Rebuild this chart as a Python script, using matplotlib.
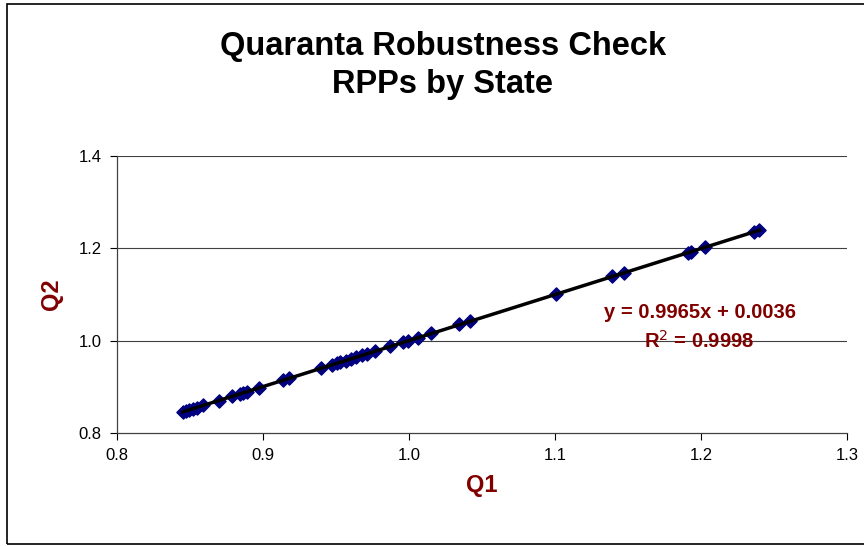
import numpy as np
import matplotlib.pyplot as plt
from matplotlib.patches import Rectangle

plt.rcParams['font.family'] = ['Liberation Sans', 'DejaVu Sans']

# RPPs by state, two quarters
q1 = [0.845, 0.847, 0.849, 0.852, 0.855, 0.859, 0.870, 0.879, 0.884, 0.886,
      0.889, 0.897, 0.914, 0.918, 0.940, 0.947, 0.951, 0.953, 0.957, 0.960,
      0.964, 0.968, 0.971, 0.977, 0.987, 0.996, 0.999, 1.006, 1.015, 1.034,
      1.042, 1.101, 1.139, 1.147, 1.191, 1.193, 1.203, 1.236, 1.240]
q2 = [0.845, 0.847, 0.850, 0.853, 0.855, 0.860, 0.870, 0.880, 0.884, 0.887,
      0.889, 0.898, 0.914, 0.920, 0.941, 0.948, 0.951, 0.953, 0.957, 0.960,
      0.964, 0.968, 0.971, 0.977, 0.988, 0.996, 1.000, 1.006, 1.016, 1.035,
      1.043, 1.101, 1.139, 1.146, 1.189, 1.193, 1.202, 1.235, 1.239]
slope, intercept = 0.9965, 0.0036
eq_text = 'y = 0.9965x + 0.0036'
r2_text = 'R$^2$ = 0.9998'
xticks = [0.8, 0.9, 1.0, 1.1, 1.2, 1.3]
yticks = [0.8, 1.0, 1.2, 1.4]

fig = plt.figure(figsize=(8.64, 5.46), dpi=100)
fig.patches.append(Rectangle((0.0081, 0.0037), 1.0, 0.989, transform=fig.transFigure,
                             fill=False, edgecolor='black', linewidth=1.2))
ax = fig.add_axes([0.1354, 0.2070, 0.8449, 0.5073])

for y in yticks[1:]:
    ax.axhline(y, color='#404040', linewidth=0.8, zorder=0)

ax.scatter(q1, q2, marker='D', s=45, color='#000080', zorder=2)
xl = np.array([min(q1), max(q1)])
ax.plot(xl, slope * xl + intercept, color='black', linewidth=2.5, zorder=3)

ax.set_xlim(0.8, 1.3)
ax.set_ylim(0.8, 1.4)
ax.set_xticks(xticks)
ax.set_yticks(yticks)
ax.set_xticklabels(['%.1f' % t for t in xticks], fontsize=12)
ax.set_yticklabels(['%.1f' % t for t in yticks], fontsize=12)
ax.tick_params(direction='out', length=5, width=0.8, pad=6)
for s in ['top', 'right']:
    ax.spines[s].set_visible(False)
for s in ['left', 'bottom']:
    ax.spines[s].set_color('#404040')
    ax.spines[s].set_linewidth(0.9)

ax.set_xlabel('Q1', fontsize=17, fontweight='bold', color='#800000', labelpad=8)
ax.set_ylabel('Q2', fontsize=17, fontweight='bold', color='#800000', labelpad=11)

fig.text(0.5127, 0.9155, 'Quaranta Robustness Check', ha='center', va='center',
         fontsize=23.5, fontweight='bold')
fig.text(0.5127, 0.8445, 'RPPs by State', ha='center', va='center',
         fontsize=23.5, fontweight='bold')

ax.text(1.199, 1.062, eq_text, ha='center', va='center', fontsize=14.5,
        fontweight='bold', color='#800000')
ax.text(1.1985, 0.999, r2_text, ha='center', va='center', fontsize=14.5,
        fontweight='bold', color='#800000')

fig.savefig('out.png', dpi=100)
